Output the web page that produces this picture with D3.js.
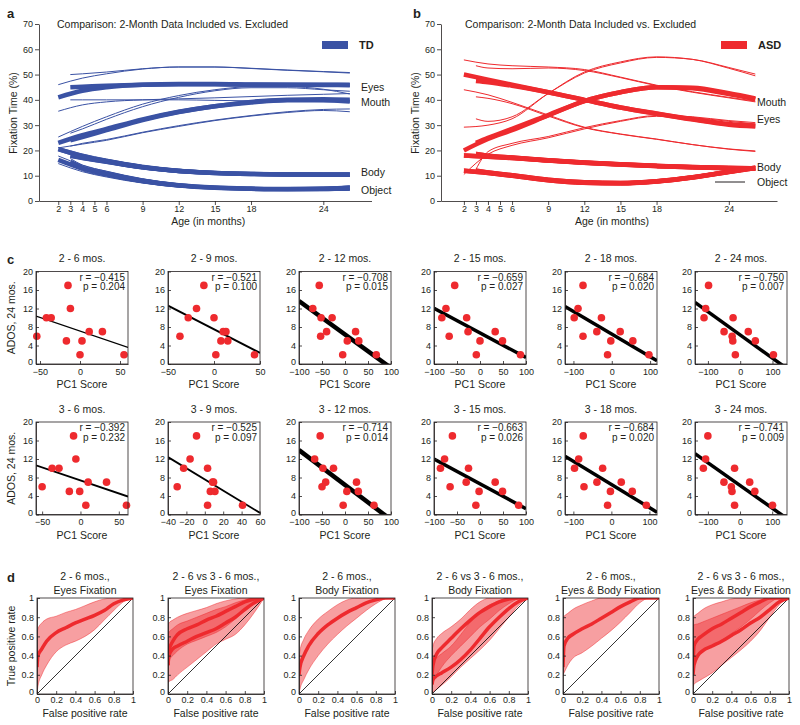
<!DOCTYPE html>
<html><head><meta charset="utf-8">
<script src="https://cdn.jsdelivr.net/npm/d3@7"></script>
<style>body{margin:0;background:#fff}</style>
</head><body>
<svg id="chart" width="800" height="725" style="background:#fff"></svg>
<script>
// ---------------- DATA ----------------
const aoiNames = ["Eyes", "Mouth", "Body", "Object"];
const agesIncluded = [2, 4, 6, 9, 12, 15, 18, 21, 24, 26.2];
const agesExcluded = [3, 4, 6, 9, 12, 15, 18, 21, 24, 26.2];
const ageTicks = [2, 3, 4, 5, 6, 9, 12, 15, 18, 24];
const fixationTicks = [0, 10, 20, 30, 40, 50, 60, 70];

// TD fixation time (%) — rows: Eyes, Mouth, Body, Object
const tdIncMean = [
  [41, 43.6, 45, 46, 46.3, 46.3, 46.1, 46, 46, 46],
  [23, 26, 28.5, 32.3, 35.3, 37.5, 39, 39.8, 39.8, 39.3],
  [20.5, 17.8, 15.8, 13.4, 11.9, 11.1, 10.7, 10.5, 10.4, 10.4],
  [16.3, 12.9, 10.6, 7.9, 6.1, 5.2, 4.8, 4.6, 4.7, 5.0]];
const tdIncHi = [
  [46, 48.6, 50.3, 52.2, 53, 53, 52.5, 51.8, 51.2, 50.8],
  [25.3, 29.5, 33.3, 38.3, 41.7, 44, 45.2, 45.2, 44.2, 42.3],
  [21.2, 18.6, 16.6, 14.2, 12.6, 11.7, 11.3, 11.1, 11, 11],
  [17.8, 14.2, 11.7, 8.7, 6.7, 5.7, 5.3, 5.2, 5.4, 5.9]];
const tdIncLo = [
  [35.5, 38, 39.2, 40, 40.4, 40.8, 41.3, 41.8, 42.2, 42.5],
  [21, 22.5, 24, 27, 29.5, 31.8, 33.6, 35, 35.8, 35.3],
  [19.8, 17, 15, 12.7, 11.2, 10.5, 10.1, 9.9, 9.8, 9.8],
  [14.8, 11.6, 9.5, 7.1, 5.5, 4.7, 4.3, 4.1, 4.1, 4.2]];
const tdExcMean = [
  [45, 45.2, 45.6, 46, 46.2, 46.2, 46, 46, 45.9, 45.8],
  [24, 25.3, 28, 32, 35.2, 37.5, 39.2, 40, 40.2, 40],
  [18, 17.1, 15.6, 13.3, 11.9, 11.1, 10.7, 10.5, 10.5, 10.5],
  [15.5, 13.1, 10.8, 8.0, 6.2, 5.3, 4.9, 4.7, 4.8, 5.2]];
const tdExcHi = [
  [50, 50.3, 51, 52.3, 53, 53, 52.4, 51.7, 51.1, 50.6],
  [26.8, 28.5, 32.3, 37.3, 41, 43.6, 44.8, 44.8, 44, 43.4],
  [18.8, 17.9, 16.4, 14, 12.6, 11.7, 11.3, 11.1, 11.1, 11.1],
  [16.8, 14.2, 11.8, 8.8, 6.8, 5.8, 5.4, 5.3, 5.5, 6.0]];
const tdExcLo = [
  [40, 40, 40, 40, 40, 39.8, 39.6, 39.5, 39.3, 39],
  [21.7, 22.8, 24.3, 27.2, 29.8, 32, 33.8, 35.3, 36.2, 36.4],
  [17.2, 16.3, 14.8, 12.6, 11.2, 10.5, 10.1, 9.9, 9.9, 9.9],
  [14.3, 12.0, 9.8, 7.2, 5.6, 4.8, 4.4, 4.2, 4.2, 4.4]];

// ASD fixation time (%) — rows: Eyes, Mouth, Body, Object
const asdIncMean = [
  [50, 48, 46, 43, 40, 37, 34.5, 32.2, 30.2, 29.5],
  [20, 24.5, 28, 33.8, 39.5, 43, 45, 44.6, 42.3, 40.3],
  [18, 17.5, 17, 16, 15.1, 14.4, 13.8, 13.3, 13, 12.8],
  [12, 11.1, 10, 8.2, 7.2, 7, 7.7, 9.3, 11.5, 13]];
const asdIncHi = [
  [55.8, 54.2, 53.5, 53, 52, 49, 45.8, 43.2, 41, 39.5],
  [29.2, 30, 32.5, 42.5, 51, 55, 57, 56, 52.5, 49.5],
  [18.7, 18.2, 17.7, 16.7, 15.8, 15.1, 14.5, 14, 13.7, 13.5],
  [12.7, 11.8, 10.7, 8.9, 7.9, 7.7, 8.4, 10, 12.2, 13.7]];
const asdIncLo = [
  [44, 42, 39, 34, 29.2, 26.5, 24.5, 22.3, 20.5, 19.6],
  [10.5, 18.5, 22, 25, 28.5, 31.5, 33.5, 33, 31.5, 30.5],
  [17.3, 16.8, 16.3, 15.3, 14.4, 13.7, 13.1, 12.6, 12.3, 12.1],
  [11.3, 10.4, 9.3, 7.5, 6.5, 6.3, 7, 8.6, 10.8, 12.3]];
const asdExcMean = [
  [47.5, 47, 45.6, 43, 40, 37, 34.6, 32.4, 30.5, 29.8],
  [23, 25, 28.5, 34, 39.5, 43, 45, 44.8, 42.6, 40.6],
  [18.6, 17.9, 17.2, 16.1, 15.2, 14.5, 13.9, 13.4, 13.1, 12.9],
  [12, 11.3, 10.2, 8.4, 7.4, 7.1, 7.8, 9.4, 11.6, 13.2]];
const asdExcHi = [
  [53.5, 52.6, 52.3, 52.6, 51.6, 48.8, 45.6, 43, 40.8, 39.2],
  [32.5, 31.5, 33.3, 42.5, 50.6, 54.6, 56.8, 56, 52.8, 50.2],
  [19.3, 18.6, 17.9, 16.8, 15.9, 15.2, 14.6, 14.1, 13.8, 13.6],
  [12.7, 12, 10.9, 9.1, 8.1, 7.8, 8.5, 10.1, 12.3, 13.9]];
const asdExcLo = [
  [41.2, 40.6, 38.5, 33.6, 29, 26.4, 24.4, 22.3, 20.6, 19.8],
  [12.5, 19.5, 22.8, 25.5, 29, 31.8, 33.8, 33.3, 31.8, 31],
  [17.9, 17.2, 16.5, 15.4, 14.5, 13.8, 13.2, 12.7, 12.4, 12.2],
  [11.3, 10.6, 9.5, 7.7, 6.7, 6.4, 7.1, 8.7, 10.9, 12.5]];

// Panel c: PC1 score vs ADOS at 24 months
const scatterTitles = ["2 - 6 mos.", "2 - 9 mos.", "2 - 12 mos.", "2 - 15 mos.", "2 - 18 mos.", "2 - 24 mos.",
                       "3 - 6 mos.", "3 - 9 mos.", "3 - 12 mos.", "3 - 15 mos.", "3 - 18 mos.", "3 - 24 mos."];
const scatterR = ["−0.415", "−0.521", "−0.708", "−0.659", "−0.684", "−0.750",
                  "−0.392", "−0.525", "−0.714", "−0.663", "−0.684", "−0.741"];
const scatterP = ["0.204", "0.100", "0.015", "0.027", "0.020", "0.007",
                  "0.232", "0.097", "0.014", "0.026", "0.020", "0.009"];
const pc1Domains = [[-55, 60], [-50, 50], [-100, 100], [-100, 100], [-122, 118], [-140, 145],
                    [-58, 62], [-40, 60], [-100, 100], [-100, 100], [-122, 120], [-140, 146]];
const pc1Ticks = [[-50, 0, 50], [-50, 0, 50], [-100, -50, 0, 50, 100], [-100, -50, 0, 50, 100], [-100, 0, 100], [-100, 0, 100],
                  [-50, 0, 50], [-40, -20, 0, 20, 40, 60], [-100, -50, 0, 50, 100], [-100, -50, 0, 50, 100], [-100, 0, 100], [-100, 0, 100]];
const adosTicks = [0, 4, 8, 12, 16, 20];
const pc1Scores = [
  [-54, -42, -36, -15, -12, -17, 0, 2.5, 11.5, 28, 55],
  [-37, -28, -19, -11, 0, 2, 7.5, 10, 13, 15, 44],
  [-70, -56, -52, -53, -40, -28, -5, 5, 23, 30, 68],
  [-83, -74, -67, -55, -29, -26, -8, 0, 33, 49, 88],
  [-98, -88, -75, -75, -39, -27, -11, -2.5, 22, 55, 97],
  [-112, -107, -98, -50, -22, -25, -23, -15, 25, 47, 103],
  [-50, -37, -28, -14.5, -9, -6, -1, 7, 10, 34, 60],
  [-30, -23, -16, -9, 3, 3, 6, 8.5, 9.5, 11, 41],
  [-66, -54, -48, -50, -42, -25, -4, 4, 25, 29, 63],
  [-86, -77, -65, -60, -30, -25, -9, -2, 33, 49, 84],
  [-97, -86, -74, -72, -38, -23, -10, -2.5, 26, 55, 92],
  [-114, -107, -100, -50, -27, -25, -17, -17, 30, 46, 101]];
const adosScores = [
  [6, 10, 10, 17, 12, 5, 2, 5, 7, 7, 2],
  [6, 10, 12, 17, 10, 2, 5, 7, 7, 5, 2],
  [12, 17, 10, 6, 7, 10, 2, 5, 7, 5, 2],
  [10, 12, 6, 17, 10, 7, 2, 5, 7, 5, 2],
  [10, 12, 17, 6, 7, 10, 2, 5, 7, 5, 2],
  [10, 12, 17, 7, 10, 6, 5, 2, 7, 5, 2],
  [6, 10, 10, 5, 17, 12, 5, 2, 7, 7, 2],
  [6, 10, 12, 17, 10, 2, 5, 7, 7, 5, 2],
  [12, 17, 10, 6, 7, 10, 2, 5, 7, 5, 2],
  [10, 12, 6, 17, 7, 10, 2, 5, 7, 5, 2],
  [10, 12, 17, 6, 7, 10, 2, 5, 7, 5, 2],
  [10, 12, 17, 7, 6, 5, 10, 2, 7, 5, 2]];

// Panel d: ROC curves
const rocTitleLine1 = ["2 - 6 mos.,", "2 - 6 vs 3 - 6 mos.,", "2 - 6 mos.,", "2 - 6 vs 3 - 6 mos.,", "2 - 6 mos.,", "2 - 6 vs 3 - 6 mos.,"];
const rocTitleLine2 = ["Eyes Fixation", "Eyes Fixation", "Body Fixation", "Body Fixation", "Eyes & Body Fixation", "Eyes & Body Fixation"];
const rocTicks = [0, 0.2, 0.4, 0.6, 0.8, 1];
const rocFpr = [0, 0.01, 0.05, 0.1, 0.2, 0.3, 0.4, 0.5, 0.6, 0.7, 0.8, 0.9, 1];
const rocMeanA = [
  [0.28, 0.4, 0.47, 0.55, 0.64, 0.69, 0.74, 0.78, 0.82, 0.87, 0.94, 0.98, 1],
  [0.3, 0.45, 0.55, 0.62, 0.68, 0.72, 0.77, 0.81, 0.86, 0.91, 0.96, 0.99, 1],
  [0.2, 0.28, 0.4, 0.5, 0.63, 0.72, 0.79, 0.85, 0.9, 0.95, 0.98, 1, 1],
  [0.2, 0.3, 0.42, 0.48, 0.58, 0.68, 0.77, 0.85, 0.91, 0.96, 0.99, 1, 1],
  [0.28, 0.5, 0.58, 0.62, 0.68, 0.73, 0.79, 0.85, 0.91, 0.96, 1, 1, 1],
  [0.28, 0.5, 0.57, 0.61, 0.68, 0.73, 0.79, 0.85, 0.91, 0.96, 1, 1, 1]];
const rocHiA = [
  [0.63, 0.68, 0.74, 0.78, 0.81, 0.85, 0.88, 0.92, 0.96, 0.99, 1, 1, 1],
  [0.72, 0.74, 0.77, 0.8, 0.84, 0.87, 0.9, 0.94, 0.97, 0.99, 1, 1, 1],
  [0.35, 0.45, 0.57, 0.66, 0.78, 0.86, 0.93, 0.98, 1, 1, 1, 1, 1],
  [0.45, 0.5, 0.58, 0.63, 0.7, 0.78, 0.88, 0.96, 1, 1, 1, 1, 1],
  [0.8, 0.81, 0.84, 0.88, 0.93, 0.97, 1, 1, 1, 1, 1, 1, 1],
  [0.8, 0.81, 0.84, 0.88, 0.93, 0.96, 0.99, 1, 1, 1, 1, 1, 1]];
const rocLoA = [
  [0, 0.08, 0.2, 0.3, 0.44, 0.51, 0.55, 0.6, 0.67, 0.77, 0.87, 0.96, 1],
  [0.3, 0.35, 0.4, 0.45, 0.52, 0.56, 0.6, 0.64, 0.7, 0.78, 0.87, 0.95, 1],
  [0, 0.05, 0.15, 0.25, 0.4, 0.52, 0.62, 0.71, 0.79, 0.87, 0.94, 0.99, 1],
  [0.05, 0.12, 0.2, 0.28, 0.4, 0.5, 0.6, 0.7, 0.78, 0.87, 0.94, 0.99, 1],
  [0.2, 0.22, 0.3, 0.37, 0.43, 0.5, 0.58, 0.66, 0.75, 0.85, 0.95, 1, 1],
  [0.2, 0.3, 0.4, 0.45, 0.5, 0.56, 0.63, 0.7, 0.78, 0.87, 0.95, 1, 1]];
const rocMeanB = [null,
  [0.3, 0.4, 0.47, 0.5, 0.55, 0.6, 0.64, 0.68, 0.74, 0.8, 0.88, 0.95, 1],
  null,
  [0.1, 0.15, 0.19, 0.22, 0.28, 0.36, 0.46, 0.58, 0.7, 0.8, 0.89, 0.96, 1],
  null,
  [0.2, 0.3, 0.4, 0.45, 0.5, 0.55, 0.61, 0.67, 0.74, 0.8, 0.88, 0.96, 1]];
const rocHiB = [null,
  [0.6, 0.64, 0.68, 0.72, 0.76, 0.8, 0.84, 0.88, 0.91, 0.95, 0.98, 1, 1],
  null,
  [0.3, 0.34, 0.38, 0.42, 0.5, 0.62, 0.75, 0.86, 0.93, 0.97, 1, 1, 1],
  null,
  [0.7, 0.72, 0.73, 0.75, 0.79, 0.83, 0.87, 0.91, 0.95, 0.98, 1, 1, 1]];
const rocLoB = [null,
  [0.12, 0.13, 0.15, 0.2, 0.28, 0.36, 0.44, 0.52, 0.57, 0.62, 0.72, 0.85, 1],
  null,
  [0, 0.02, 0.05, 0.09, 0.18, 0.28, 0.37, 0.46, 0.56, 0.68, 0.8, 0.92, 1],
  null,
  [0.05, 0.1, 0.13, 0.16, 0.22, 0.3, 0.38, 0.46, 0.55, 0.66, 0.8, 0.93, 1]];

// ---------------- DRAWING ----------------
const FONT = "'Liberation Sans', Arial, Helvetica, sans-serif";
const INK = "#231f20";
const BLUE = "#3a52a4";
const RED = "#ee2a2e";
const svg = d3.select("#chart");

function txt(parent, x, y, s, o = {}) {
  return parent.append("text").attr("x", x).attr("y", y).text(s)
    .attr("font-family", FONT).attr("font-size", o.size || 10.5)
    .attr("font-weight", o.weight || "normal").attr("text-anchor", o.anchor || "start")
    .attr("fill", INK).attr("transform", o.rotate ? `rotate(-90,${x},${y})` : null);
}
function styleAxis(sel, fs) {
  sel.attr("font-family", FONT).attr("font-size", fs);
  sel.selectAll("path,line").attr("stroke", INK).attr("stroke-width", 0.8);
  sel.selectAll("text").attr("fill", INK);
}

// panel labels
txt(svg, 7, 18, "a", {size: 13, weight: "bold"});
txt(svg, 413, 18, "b", {size: 13, weight: "bold"});
txt(svg, 7, 264, "c", {size: 13, weight: "bold"});
txt(svg, 7, 582, "d", {size: 13, weight: "bold"});

// ---- panels a & b ----
function trajectoryPanel(cfg) {
  const g = svg.append("g");
  const x = d3.scaleLinear().domain(cfg.domain).range(cfg.range);
  const y = d3.scaleLinear().domain([0, 70]).range([201, 24]);
  const ya = g.append("g").attr("transform", `translate(${cfg.range[0]},0)`)
    .call(d3.axisLeft(y).tickValues(fixationTicks).tickSize(4).tickSizeOuter(0).tickPadding(2));
  styleAxis(ya, 9);
  const xa = g.append("g").attr("transform", "translate(0,201)")
    .call(d3.axisBottom(x).tickValues(ageTicks).tickSize(4).tickSizeOuter(0).tickPadding(1));
  styleAxis(xa, 9);

  const sets = [[agesIncluded, cfg.incHi, cfg.incLo, cfg.incMean], [agesExcluded, cfg.excHi, cfg.excLo, cfg.excMean]];
  sets.forEach(([ages, hi, lo, mean]) => {
    const line = d3.line().x((d, i) => x(ages[i])).y(d => y(d)).curve(d3.curveMonotoneX);
    [hi, lo].forEach(grp => grp.forEach(vals =>
      g.append("path").attr("d", line(vals)).attr("fill", "none").attr("stroke", cfg.color).attr("stroke-width", 1)));
    mean.forEach(vals =>
      g.append("path").attr("d", line(vals)).attr("fill", "none").attr("stroke", cfg.color).attr("stroke-width", 4.5));
  });

  txt(g, cfg.titleX, 28, "Comparison: 2-Month Data Included vs. Excluded", {size: 10.5});
  g.append("line").attr("x1", cfg.legendX).attr("x2", cfg.legendX + 26).attr("y1", 45).attr("y2", 45)
    .attr("stroke", cfg.color).attr("stroke-width", 8);
  txt(g, cfg.legendX + 37, 49, cfg.group, {size: 11, weight: "bold"});
  cfg.labels.forEach((lab, i) => txt(g, cfg.labelX, cfg.labelY[i], lab, {size: 10.5}));
  txt(g, (cfg.range[0] + cfg.range[1]) / 2 + 3, 225, "Age (in months)", {size: 10.5, anchor: "middle"});
  txt(g, cfg.range[0] - 22, 113, "Fixation Time (%)", {size: 10.5, anchor: "middle", rotate: true});
  return {g, x, y};
}

trajectoryPanel({
  domain: [0.4, 28], range: [39, 371.5], color: BLUE, group: "TD", legendX: 322, titleX: 57,
  incMean: tdIncMean, incHi: tdIncHi, incLo: tdIncLo, excMean: tdExcMean, excHi: tdExcHi, excLo: tdExcLo,
  labels: aoiNames, labelX: 361, labelY: [91, 106, 176, 194]
});
const pb = trajectoryPanel({
  domain: [0.1, 28], range: [441, 777], color: RED, group: "ASD", legendX: 721, titleX: 465,
  incMean: asdIncMean, incHi: asdIncHi, incLo: asdIncLo, excMean: asdExcMean, excHi: asdExcHi, excLo: asdExcLo,
  labels: ["Mouth", "Eyes", "Body", "Object"], labelX: 757, labelY: [106, 123, 171, 186]
});
pb.g.append("line").attr("x1", 715).attr("x2", 745).attr("y1", 182).attr("y2", 182).attr("stroke", INK).attr("stroke-width", 1);

// ---- panel c ----
const colLefts = [36, 168, 299, 434, 565, 695];
const fitWidths = [1.2, 2, 4.5, 3.5, 3.5, 3.5, 1.8, 1.8, 4.5, 3.5, 3.5, 3.5];
const rowTops = [271.5, 422];
const cW = 92, cH = 92.5;

pc1Scores.forEach((xs, i) => {
  const col = i % 6, row = Math.floor(i / 6);
  const L = colLefts[col], T = rowTops[row];
  const g = svg.append("g");
  const x = d3.scaleLinear().domain(pc1Domains[i]).range([L, L + cW]);
  const y = d3.scaleLinear().domain([0, 20]).range([T + cH, T]);
  const clipId = "clipc" + i;
  g.append("clipPath").attr("id", clipId).append("rect").attr("x", L).attr("y", T).attr("width", cW).attr("height", cH);

  const ys = adosScores[i];
  const mx = d3.mean(xs), my = d3.mean(ys);
  const slope = d3.sum(xs, (v, k) => (v - mx) * (ys[k] - my)) / d3.sum(xs, v => (v - mx) * (v - mx));
  const d0 = pc1Domains[i][0], d1 = pc1Domains[i][1];
  g.append("line").attr("clip-path", `url(#${clipId})`)
    .attr("x1", x(d0)).attr("y1", y(my + slope * (d0 - mx)))
    .attr("x2", x(d1)).attr("y2", y(my + slope * (d1 - mx)))
    .attr("stroke", "#000").attr("stroke-width", fitWidths[i]);

  g.selectAll("circle.pt").data(xs).join("circle").attr("class", "pt")
    .attr("cx", d => x(d)).attr("cy", (d, k) => y(ys[k])).attr("r", 3.8).attr("fill", RED);

  const xa = g.append("g").attr("transform", `translate(0,${T + cH})`)
    .call(d3.axisBottom(x).tickValues(pc1Ticks[i]).tickSize(-3).tickSizeOuter(0).tickPadding(4.5));
  styleAxis(xa, 9);
  const ya = g.append("g").attr("transform", `translate(${L},0)`)
    .call(d3.axisLeft(y).tickValues(adosTicks).tickSize(-3).tickSizeOuter(0).tickPadding(3));
  styleAxis(ya, 9);
  ya.selectAll(".tick").filter(d => d === 0).select("text").attr("dy", "0.1em");
  g.append("rect").attr("x", L).attr("y", T).attr("width", cW).attr("height", cH)
    .attr("fill", "none").attr("stroke", INK).attr("stroke-width", 0.8);

  txt(g, L + cW - 3, T + 9, "r = " + scatterR[i], {size: 10, anchor: "end"});
  txt(g, L + cW - 3, T + 18.5, "p = " + scatterP[i], {size: 10, anchor: "end"});
  txt(g, L + cW / 2, T - 9.5, scatterTitles[i], {size: 10.5, anchor: "middle"});
  txt(g, L + cW / 2, T + cH + 24, "PC1 Score", {size: 10.5, anchor: "middle"});
  if (col === 0) txt(g, 15, T + cH / 2, "ADOS, 24 mos.", {size: 10.5, anchor: "middle", rotate: true});
});

// ---- panel d ----
const dLefts = [37, 168, 299, 432, 563, 693];
const dTop = 598, dSize = 96;
rocMeanA.forEach((meanA, i) => {
  const L = dLefts[i];
  const g = svg.append("g");
  const x = d3.scaleLinear().domain([0, 1]).range([L, L + dSize]);
  const y = d3.scaleLinear().domain([0, 1]).range([dTop + dSize, dTop]);
  const clipId = "clipd" + i;
  g.append("clipPath").attr("id", clipId).append("rect").attr("x", L).attr("y", dTop).attr("width", dSize).attr("height", dSize);
  const area = d3.area().x((d, k) => x(rocFpr[k])).y0(d => y(d[0])).y1(d => y(d[1])).curve(d3.curveMonotoneX);
  const line = d3.line().x((d, k) => x(rocFpr[k])).y(d => y(d)).curve(d3.curveMonotoneX);
  const bands = [[rocLoA[i], rocHiA[i]]];
  if (rocHiB[i]) bands.push([rocLoB[i], rocHiB[i]]);
  bands.forEach(([lo, hi]) => {
    g.append("path").attr("clip-path", `url(#${clipId})`)
      .attr("d", area(lo.map((v, k) => [v, hi[k]])))
      .attr("fill", RED).attr("fill-opacity", 0.45).attr("stroke", RED).attr("stroke-width", 0.6).attr("stroke-opacity", 0.8);
  });
  g.append("line").attr("x1", x(0)).attr("y1", y(0)).attr("x2", x(1)).attr("y2", y(1)).attr("stroke", "#000").attr("stroke-width", 0.8);
  [meanA, rocMeanB[i]].filter(Boolean).forEach(m => {
    g.append("path").attr("clip-path", `url(#${clipId})`).attr("d", line(m))
      .attr("fill", "none").attr("stroke", RED).attr("stroke-width", 3.5);
  });
  const fmt = d => String(d);
  const xa = g.append("g").attr("transform", `translate(0,${dTop + dSize})`)
    .call(d3.axisBottom(x).tickValues(rocTicks).tickFormat(fmt).tickSize(-3).tickSizeOuter(0).tickPadding(3));
  styleAxis(xa, 9);
  const ya = g.append("g").attr("transform", `translate(${L},0)`)
    .call(d3.axisLeft(y).tickValues(rocTicks).tickFormat(fmt).tickSize(-3).tickSizeOuter(0).tickPadding(3));
  styleAxis(ya, 9);
  ya.selectAll(".tick").filter(d => d === 0).select("text").attr("dy", "0.1em");
  g.append("rect").attr("x", L).attr("y", dTop).attr("width", dSize).attr("height", dSize)
    .attr("fill", "none").attr("stroke", INK).attr("stroke-width", 0.8);
  txt(g, L + dSize / 2, 580, rocTitleLine1[i], {size: 10.5, anchor: "middle"});
  txt(g, L + dSize / 2, 593.5, rocTitleLine2[i], {size: 10.5, anchor: "middle"});
  txt(g, L + dSize / 2, 717, "False positive rate", {size: 10.5, anchor: "middle"});
  if (i === 0) txt(g, 15, dTop + dSize / 2, "True positive rate", {size: 10.5, anchor: "middle", rotate: true});
});
</script>
</body></html>
